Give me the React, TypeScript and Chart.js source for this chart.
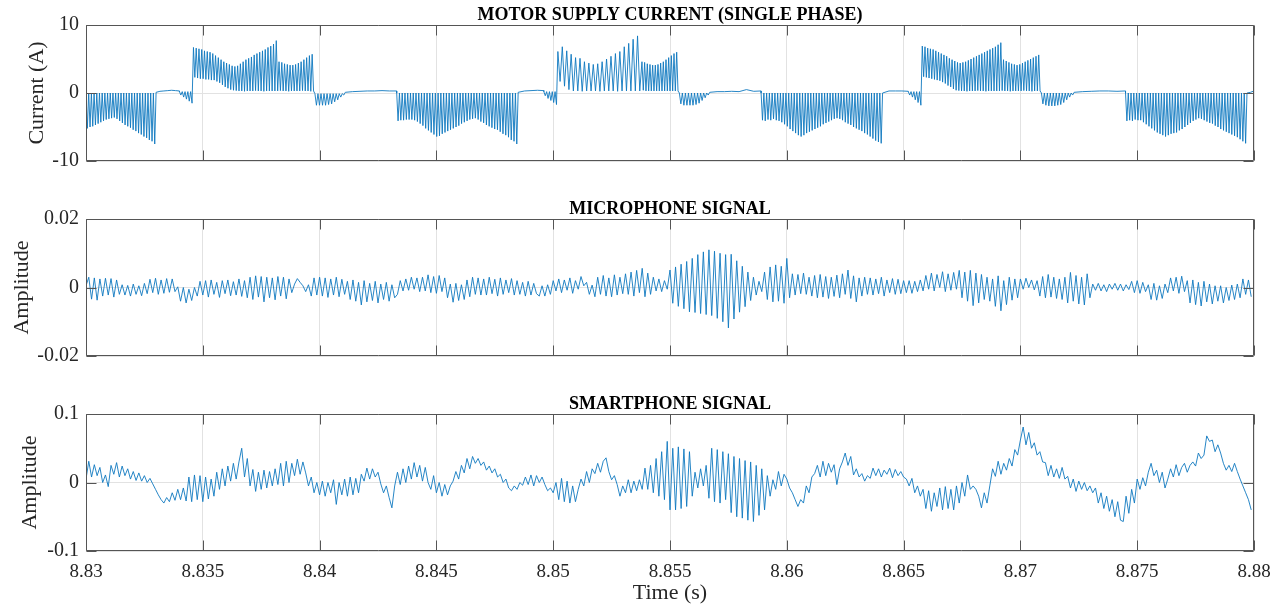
import React, { useEffect, useRef } from "react";
import { Chart, registerables } from "chart.js";

Chart.register(...registerables);

const FONT = "'Liberation Serif', 'Times New Roman', Times, serif";
const LINE_COLOR = "#0f78c0";
const TEXT_COLOR = "#262626";
const GRID_COLOR = "#e2e2e2";

// ---------- axes ----------
const X_MIN = 8.83;
const X_MAX = 8.88;
const xTickValues = [8.83, 8.835, 8.84, 8.845, 8.85, 8.855, 8.86, 8.865, 8.87, 8.875, 8.88];
const xTickLabels = ["8.83", "8.835", "8.84", "8.845", "8.85", "8.855", "8.86", "8.865", "8.87", "8.875", "8.88"];

const currentTicks = [-10, 0, 10];
const currentTickLabels = ["-10", "0", "10"];
const micTicks = [-0.02, 0, 0.02];
const micTickLabels = ["-0.02", "0", "0.02"];
const phoneTicks = [-0.1, 0, 0.1];
const phoneTickLabels = ["-0.1", "0", "0.1"];

// ---------- motor supply current (A) ----------
// negative conduction blocks: spike troughs (spikes rise back to 0)
const curNeg0 = [-5.2, -5.0, -4.9, -4.7, -4.5, -4.3, -4.1, -3.9, -3.8, -3.7, -3.6, -3.8, -4.1, -4.4, -4.7, -4.9, -5.1, -5.4, -5.6, -5.9, -6.1, -6.4, -6.6, -6.9, -7.1, -7.5];
const curNeg1 = [-4.1, -4.0, -4.0, -3.9, -3.9, -3.9, -4.0, -4.2, -4.5, -4.8, -5.2, -5.5, -5.8, -6.1, -6.4, -6.3, -6.0, -5.8, -5.6, -5.4, -5.2, -5.0, -4.8, -4.5, -4.3, -4.1, -3.9, -3.8, -3.7, -3.9, -4.2, -4.4, -4.7, -4.9, -5.1, -5.3, -5.4, -5.7, -6.0, -6.2, -6.5, -6.9, -7.1, -7.5];
const curNeg2 = [-4.0, -4.1, -3.9, -4.0, -3.8, -4.0, -4.1, -4.3, -4.6, -4.9, -5.3, -5.6, -5.9, -6.2, -6.4, -6.2, -5.9, -5.7, -5.5, -5.3, -5.1, -4.9, -4.6, -4.4, -4.2, -4.0, -3.8, -3.7, -3.8, -4.0, -4.3, -4.5, -4.7, -5.0, -5.2, -5.4, -5.6, -5.9, -6.1, -6.4, -6.7, -7.0, -7.2, -7.4];
const curNeg3 = [-4.1, -4.0, -4.1, -3.9, -4.0, -4.0, -4.3, -4.6, -4.9, -5.2, -5.5, -5.8, -6.0, -6.2, -6.4, -6.2, -6.0, -5.9, -5.8, -5.5, -5.3, -5.0, -4.7, -4.4, -4.1, -3.9, -3.7, -3.8, -4.0, -4.2, -4.4, -4.5, -4.8, -5.0, -5.3, -5.5, -5.7, -5.9, -6.1, -6.3, -6.5, -6.8, -7.1, -7.4];

// positive conduction blocks: spike peaks and the lows between them
const curPos0Peaks = [6.7, 6.6, 6.5, 6.4, 6.2, 6.1, 6.0, 5.8, 5.5, 5.2, 4.9, 4.6, 4.4, 4.2, 4.0, 3.9, 4.0, 4.3, 4.6, 4.9, 5.1, 5.3, 5.6, 5.8, 6.0, 6.2, 6.4, 6.7, 6.9, 7.2, 7.7, 4.6, 4.5, 4.3, 4.2, 4.1, 4.1, 4.2, 4.4, 4.6, 4.9, 5.2, 5.5, 5.7];
const curPos0Lows = [2.3, 2.2, 2.1, 2.1, 2.0, 2.0, 1.9, 1.9, 1.7, 1.5, 1.2, 0.9, 0.7, 0.5, 0.4, 0.35, 0.3, 0.3, 0.25, 0.3, 0.3, 0.3, 0.35, 0.3, 0.3, 0.25, 0.3, 0.3, 0.3, 0.3, 0.3, 0.35, 0.3, 0.3, 0.25, 0.3, 0.3, 0.3, 0.3, 0.35, 0.3, 0.3, 0.25, 0.3];
const curPos1aPeaks = [6.1, 6.8, 6.2, 5.7, 5.2, 5.1, 4.6, 4.4, 4.2, 4.3, 4.6, 5.0, 5.4, 5.8, 6.1, 6.8, 7.3, 7.9, 8.4];
const curPos1aLows = [1.7, 1.0, 0.5, 0.3, 0.3, 0.25, 0.3, 0.3, 0.3, 0.25, 0.3, 0.3, 0.3, 0.25, 0.3, 0.3, 0.3, 0.3, 0.3];
const curPos1bPeaks = [4.6, 4.5, 4.3, 4.2, 4.1, 4.1, 4.2, 4.4, 4.6, 4.9, 5.2, 5.5, 5.8, 6.0];
const curPos1bLows = [0.4, 0.3, 0.3, 0.3, 0.3, 0.3, 0.3, 0.3, 0.3, 0.3, 0.3, 0.3, 0.3, 0.3];
const curPos2Peaks = [6.9, 6.8, 6.6, 6.5, 6.4, 6.2, 6.0, 5.8, 5.6, 5.4, 5.1, 4.9, 4.7, 4.5, 4.4, 4.5, 4.6, 4.8, 5.0, 5.2, 5.4, 5.6, 5.8, 6.0, 6.2, 6.4, 6.6, 6.8, 7.1, 7.4, 4.9, 4.7, 4.5, 4.3, 4.2, 4.1, 4.2, 4.4, 4.6, 4.8, 5.0, 5.2, 5.4, 5.6];
const curPos2Lows = [2.4, 2.3, 2.2, 2.1, 2.0, 1.9, 1.8, 1.6, 1.4, 1.1, 0.9, 0.6, 0.4, 0.35, 0.3, 0.3, 0.25, 0.3, 0.3, 0.3, 0.35, 0.3, 0.3, 0.25, 0.3, 0.3, 0.3, 0.3, 0.3, 0.35, 0.3, 0.3, 0.25, 0.3, 0.3, 0.3, 0.3, 0.35, 0.3, 0.3, 0.25, 0.3, 0.3, 0.3];

// small freewheeling dips between blocks (troughs)
const curDip0 = [-0.3, -0.6, -0.9, -1.2, -1.5];
const curDip1 = [-1.8, -1.8, -1.8, -1.8, -1.7, -1.6, -1.3, -1.0, -0.6, -0.3];
const curDip2 = [-0.4, -0.8, -1.1, -1.4, -1.7];
const curDip3 = [-1.6, -1.8, -1.8, -1.8, -1.8, -1.7, -1.5, -1.1, -0.7, -0.3];
const curDip4 = [-0.3, -0.6, -1.0, -1.4, -1.8];
const curDip5 = [-1.6, -1.8, -1.9, -1.9, -1.9, -1.8, -1.7, -1.4, -1.0, -0.6, -0.3];

// near-zero idle stretches
const curFlat0 = [0.1, 0.25, 0.3, 0.35, 0.4, 0.35, 0.3];
const curFlat1 = [0.1, 0.2, 0.25, 0.3, 0.3, 0.35, 0.3, 0.3];
const curFlat2 = [0.1, 0.3, 0.35, 0.4, 0.35];
const curFlat3 = [0.1, 0.2, 0.2, 0.25, 0.2, 0.5, 0.25, 0.3];
const curFlat4 = [0.0, 0.3, 0.3, 0.3, 0.25];
const curFlat5 = [0.1, 0.2, 0.25, 0.3, 0.3, 0.25, 0.3];
const curFlat6 = [0.0, 0.1, 0.3];

type Piece = [string, number, number, number | number[], number | number[]];
// [kind, start time (s), end time (s), first level(s), second level(s)]
const currentLayout: Piece[] = [
  ["spike", 8.8300, 8.8330, 0, curNeg0],
  ["flat", 8.8330, 8.8340, curFlat0, 0],
  ["spike", 8.8340, 8.8346, 0.2, curDip0],
  ["spike", 8.8346, 8.8398, curPos0Peaks, curPos0Lows],
  ["spike", 8.8398, 8.8411, -0.1, curDip1],
  ["flat", 8.8411, 8.8433, curFlat1, 0],
  ["spike", 8.8433, 8.8485, 0, curNeg1],
  ["flat", 8.8485, 8.8496, curFlat2, 0],
  ["spike", 8.8496, 8.8502, 0.2, curDip2],
  ["spike", 8.8502, 8.8538, curPos1aPeaks, curPos1aLows],
  ["spike", 8.8538, 8.8554, curPos1bPeaks, curPos1bLows],
  ["spike", 8.8554, 8.8567, 0.0, curDip3],
  ["flat", 8.8567, 8.8589, curFlat3, 0],
  ["spike", 8.8589, 8.8641, 0, curNeg2],
  ["flat", 8.8641, 8.8652, curFlat4, 0],
  ["spike", 8.8652, 8.8658, 0.2, curDip4],
  ["spike", 8.8658, 8.8709, curPos2Peaks, curPos2Lows],
  ["spike", 8.8709, 8.8723, 0.0, curDip5],
  ["flat", 8.8723, 8.8745, curFlat5, 0],
  ["spike", 8.8745, 8.8797, 0, curNeg3],
  ["flat", 8.8797, 8.8800, curFlat6, 0],
];

// ---------- microphone signal (units of 1e-4), one array per 10 ms ----------
const MIC_SCALE = 1e-4;
const mic0 = [5, 30, -34, 28, -37, 25, -25, 27, -22, 26, -28, 22, -20, 8, -22, 6, -25, 10, -20, 5, -24, 12, -18, 24, -15, 27, -20, 22, -17, 26, -14, 25, -12, 2, -40, 0, -45, -5, -38, 0, -25, 18, -22, 20, -28, 22, -20, 15, -29, 20, -18, 22, -24, 17, -22, 25, -26, 20, -30, 30, -35, 34, -28, 32, -42, 30, -30, 28, -36, 32, -25, 30, -33, 25, -15, 10, 26, 15, 5, -12, 8, -25, 28, -22];
const mic1 = [30, -25, 28, -29, 25, -22, 30, -27, 24, -20, 18, -35, 22, -40, 15, -51, 20, -42, 12, -38, 18, -45, 10, -35, 15, -40, 8, -30, -20, 20, -10, 25, -8, 30, -5, 28, -12, 30, -10, 37, -15, 32, -17, 35, -12, 28, -30, 10, -43, 12, -38, 8, -35, 22, -27, 30, -20, 28, -22, 25, -22, 30, -18, 24, -25, 28, -20, 22, -15, 26, -22, 20, -20, 15, -25, 18, -22, 12, -18, -25, 5, -25, 8, -20];
const mic2 = [20, -10, 25, -15, 22, -8, 28, -17, 20, -5, 32, 5, 15, -20, 7, -27, 30, -20, 35, -25, 28, -27, 37, -22, 30, -18, 40, -20, 45, -25, 50, -15, 56, -27, 42, -20, 30, -10, 25, -12, 20, -5, 51, -46, 60, -55, 68, -62, 76, -71, 85, -73, 96, -76, 104, -79, 110, -82, 106, -90, 100, -100, 96, -118, 97, -92, 78, -72, 62, -56, 45, -38, 30, -22, 18, -12, 45, -35, 60, -42, 66, -40, 62, -46];
const mic3 = [85, -30, 40, -22, 38, -18, 42, -20, 30, -25, 35, -30, 38, -28, 32, -32, 30, -26, 36, -30, 40, -20, 51, -32, 34, -42, 28, -25, 30, -20, 28, -22, 25, -18, 30, -25, 22, -15, 26, -20, 24, -18, 20, -15, 20, -17, 18, -12, 22, -10, 35, -5, 42, -10, 38, 0, 46, -12, 40, -8, 44, -5, 50, -30, 45, -40, 50, -53, 42, -45, 38, -35, 30, -40, 25, -55, 34, -68, 20, -50, 30, -37, 25, -30];
const mic4 = [25, -5, 27, 0, 22, -7, 20, -25, 32, -30, 38, -28, 30, -32, 25, -35, 30, -45, 44, -40, 35, -48, 30, -51, 40, -30, 10, -8, 12, -10, 8, -12, 10, -5, 12, -8, 10, -10, 8, -6, 18, -15, 20, -17, 15, -12, 8, -35, 12, -37, 5, -32, 10, -15, 28, -10, 30, -17, 33, -12, 20, -45, 22, -50, 15, -54, 18, -42, 10, -48, 5, -40, 5, -45, 0, -38, 7, -35, 10, -30, 25, -20, 22, -27];

// ---------- smartphone signal (units of 1e-3), one array per 10 ms ----------
const PHONE_SCALE = 1e-3;
const phone0 = [5, 31, 8, 26, 10, 22, 0, 11, -6, 25, 12, 29, 8, 24, 10, 20, 5, 16, 3, 14, 2, 10, 0, 6, -2, -10, -18, -25, -30, -22, -28, -15, -26, -10, -25, -8, -27, 8, -28, 11, -25, 10, -28, 8, -24, 5, -20, 15, -10, 20, -5, 24, 2, 28, 5, 30, 50, 8, 35, -5, 19, -13, 15, -10, 18, -8, 16, -5, 20, -3, 28, -5, 31, 0, 28, 10, 34, 12, 30, 14, -5, 8, -15, 0];
const phone1 = [-18, 2, -20, 0, -15, 4, -32, 0, -18, 5, -20, 8, -18, 6, -15, 12, 2, 21, 5, 20, 8, 15, -2, -15, -5, -22, -37, -5, 15, -3, 20, 0, 24, 5, 29, 8, 25, 2, 22, 0, -10, 10, -15, 0, -20, -3, -18, -5, 2, 16, 5, 25, 14, 35, 20, 38, 28, 35, 25, 30, 18, 24, 14, 20, 8, 12, 0, 5, -8, -12, -5, -10, 0, -4, 8, -3, 11, -5, 10, 0, 8, -3, -12, -8];
const phone2 = [-15, 0, -25, 6, -28, 2, -30, -5, -28, -10, 5, -5, 16, 0, 20, 13, 28, 15, 31, 36, 16, 4, 10, -3, -20, -5, -15, 4, -15, 2, -12, 4, -10, 21, -10, 25, -15, 35, -20, 45, -25, 60, -40, 50, -40, 52, -38, 49, -35, 45, -20, 15, -8, 20, -5, 25, -23, 50, -28, 48, -30, 45, -25, 42, -44, 38, -50, 35, -52, 32, -55, 30, -57, 25, -48, 20, -40, 10, -20, 4, -10, 16, -5, 12];
const phone3 = [5, -8, -15, -25, -35, -25, -30, -5, -15, 8, 13, 25, 8, 31, 10, 28, 15, 26, -3, 20, 30, 43, 25, 38, 11, 20, 8, 13, 2, 10, 6, 21, 10, 20, 8, 18, 12, 21, 7, 19, 10, 16, 8, 5, -5, 6, -15, -5, -20, -10, -38, -12, -42, -15, -35, -8, -40, -6, -38, -10, -40, -5, -30, 0, -20, 11, -10, -5, -10, -20, -37, -15, -30, -5, 20, 9, 31, 12, 28, 18, 35, 24, 48, 40];
const phone4 = [62, 81, 55, 73, 50, 58, 40, 45, 30, 29, 10, 25, 8, 20, 6, 22, 5, 9, -8, 5, -13, 2, -10, 0, -12, -5, -15, -8, -30, -15, -38, -20, -42, -25, -50, -28, -55, -57, -20, -45, -10, -30, 5, -10, 7, -5, 15, 28, 10, 18, 0, 15, -8, 5, 20, 8, 26, 10, 22, 28, 15, 25, 30, 24, 43, 35, 40, 68, 60, 62, 45, 55, 43, 28, 18, 25, 16, 28, 16, 5, -5, -15, -25, -40];

const WINDOW = 0.01;

type Pt = { x: number; y: number };

function buildCurrent(): Pt[] {
  const out: Pt[] = [];
  for (const [kind, t0, t1, a, b] of currentLayout) {
    if (kind === "flat") {
      const vals = a as number[];
      const n = vals.length;
      vals.forEach((v, i) => out.push({ x: t0 + ((t1 - t0) * i) / (n - 1), y: v }));
    } else {
      const n = Array.isArray(a) ? a.length : (b as number[]).length;
      const step = (t1 - t0) / n;
      for (let i = 0; i < n; i++) {
        out.push({ x: t0 + i * step, y: Array.isArray(a) ? a[i] : a });
        out.push({ x: t0 + (i + 0.5) * step, y: Array.isArray(b) ? b[i] : b });
      }
    }
  }
  return out;
}

function buildWindows(windows: number[][], scale: number): Pt[] {
  const out: Pt[] = [];
  windows.forEach((w, k) => {
    const t0 = X_MIN + k * WINDOW;
    w.forEach((v, i) => out.push({ x: t0 + (WINDOW * i) / w.length, y: v * scale }));
  });
  return out;
}

function labelFor(values: number[], labels: string[], v: number): string {
  for (let i = 0; i < values.length; i++) {
    if (Math.abs(values[i] - v) < 1e-9) return labels[i];
  }
  return "";
}

const TICK_LEN = 10;

function makeFramePlugin(title: string, yTicks: number[]) {
  return {
    id: "frame",
    afterDraw(chart: any) {
      const { ctx, chartArea: a, scales } = chart;
      const L = Math.round(a.left) + 0.5;
      const R = Math.round(a.right) - 0.5;
      const T = Math.round(a.top) + 0.5;
      const B = Math.round(a.bottom) - 0.5;
      ctx.save();
      ctx.strokeStyle = "#555555";
      ctx.lineWidth = 1;
      ctx.beginPath();
      ctx.rect(L, T, R - L, B - T);
      for (const v of xTickValues) {
        const px = Math.round(scales.x.getPixelForValue(v)) + 0.5;
        ctx.moveTo(px, B);
        ctx.lineTo(px, B - TICK_LEN);
        ctx.moveTo(px, T);
        ctx.lineTo(px, T + TICK_LEN);
      }
      for (const v of yTicks) {
        const py = Math.round(scales.y.getPixelForValue(v)) + 0.5;
        ctx.moveTo(L, py);
        ctx.lineTo(L + TICK_LEN, py);
        ctx.moveTo(R, py);
        ctx.lineTo(R - TICK_LEN, py);
      }
      ctx.stroke();
      ctx.fillStyle = "#000";
      ctx.font = `bold 18px ${FONT}`;
      ctx.textAlign = "center";
      ctx.textBaseline = "alphabetic";
      ctx.fillText(title, (a.left + a.right) / 2, a.top - 5);
      ctx.restore();
    },
  };
}

type PanelProps = {
  top: number;
  height: number;
  data: Pt[];
  yMin: number;
  yMax: number;
  yTicks: number[];
  yLabels: string[];
  yTitle: string;
  title: string;
  showX: boolean;
  padLeft: number;
  padTop: number;
  padBottom: number;
  yWidth: number;
  xHeight: number;
};

function Panel(p: PanelProps) {
  const ref = useRef<HTMLCanvasElement | null>(null);
  useEffect(() => {
    if (!ref.current) return;
    const chart = new Chart(ref.current, {
      type: "line",
      data: {
        datasets: [
          {
            data: p.data as any,
            borderColor: LINE_COLOR,
            borderWidth: 0.9,
            pointRadius: 0,
            tension: 0,
            fill: false,
          },
        ],
      },
      options: {
        animation: false,
        responsive: false,
        devicePixelRatio: 1,
        parsing: false,
        normalized: true,
        events: [],
        layout: { padding: { left: p.padLeft, right: 33, top: p.padTop, bottom: p.padBottom } },
        plugins: { legend: { display: false }, tooltip: { enabled: false }, title: { display: false } },
        scales: {
          x: {
            type: "linear",
            min: X_MIN,
            max: X_MAX,
            afterBuildTicks: (s: any) => {
              s.ticks = xTickValues.map((v) => ({ value: v }));
            },
            afterFit: (s: any) => {
              s.height = p.xHeight;
            },
            ticks: {
              display: p.showX,
              autoSkip: false,
              maxRotation: 0,
              padding: 10,
              color: TEXT_COLOR,
              font: { family: FONT, size: 19 },
              callback: (v: any) => labelFor(xTickValues, xTickLabels, Number(v)),
            },
            grid: { color: GRID_COLOR, lineWidth: 1, drawTicks: false },
            border: { display: false },
            title: {
              display: p.showX,
              text: "Time (s)",
              color: TEXT_COLOR,
              font: { family: FONT, size: 22 },
              padding: { top: 0, bottom: 1 },
            },
          },
          y: {
            type: "linear",
            min: p.yMin,
            max: p.yMax,
            afterBuildTicks: (s: any) => {
              s.ticks = p.yTicks.map((v) => ({ value: v }));
            },
            afterFit: (s: any) => {
              s.width = p.yWidth;
            },
            ticks: {
              padding: 7,
              color: TEXT_COLOR,
              font: { family: FONT, size: 20 },
              callback: (v: any) => labelFor(p.yTicks, p.yLabels, Number(v)),
            },
            grid: { color: GRID_COLOR, lineWidth: 1, drawTicks: false },
            border: { display: false },
            title: {
              display: true,
              text: p.yTitle,
              color: TEXT_COLOR,
              font: { family: FONT, size: 22 },
              padding: { top: 4, bottom: 4 },
            },
          },
        },
      } as any,
      plugins: [makeFramePlugin(p.title, p.yTicks)],
    });
    return () => chart.destroy();
  }, []);
  return (
    <canvas
      ref={ref}
      width={1287}
      height={p.height}
      style={{ position: "absolute", left: 0, top: p.top, width: 1287, height: p.height }}
    />
  );
}

export default function App() {
  const current = buildCurrent();
  const mic = buildWindows([mic0, mic1, mic2, mic3, mic4], MIC_SCALE);
  const phone = buildWindows([phone0, phone1, phone2, phone3, phone4], PHONE_SCALE);
  return (
    <div style={{ position: "absolute", left: 0, top: 0, width: 1287, height: 607, background: "#fff", overflow: "hidden" }}>
      <Panel
        top={0}
        height={190}
        data={current}
        yMin={-10}
        yMax={10}
        yTicks={currentTicks}
        yLabels={currentTickLabels}
        yTitle="Current (A)"
        title="MOTOR SUPPLY CURRENT (SINGLE PHASE)"
        showX={false}
        padLeft={20}
        padTop={25}
        padBottom={29}
        yWidth={66}
        xHeight={0}
      />
      <Panel
        top={190}
        height={195}
        data={mic}
        yMin={-0.02}
        yMax={0.02}
        yTicks={micTicks}
        yLabels={micTickLabels}
        yTitle="Amplitude"
        title="MICROPHONE SIGNAL"
        showX={false}
        padLeft={5}
        padTop={29}
        padBottom={29}
        yWidth={81}
        xHeight={0}
      />
      <Panel
        top={385}
        height={222}
        data={phone}
        yMin={-0.1}
        yMax={0.1}
        yTicks={phoneTicks}
        yLabels={phoneTickLabels}
        yTitle="Amplitude"
        title="SMARTPHONE SIGNAL"
        showX={true}
        padLeft={13}
        padTop={29}
        padBottom={0}
        yWidth={73}
        xHeight={56}
      />
    </div>
  );
}
